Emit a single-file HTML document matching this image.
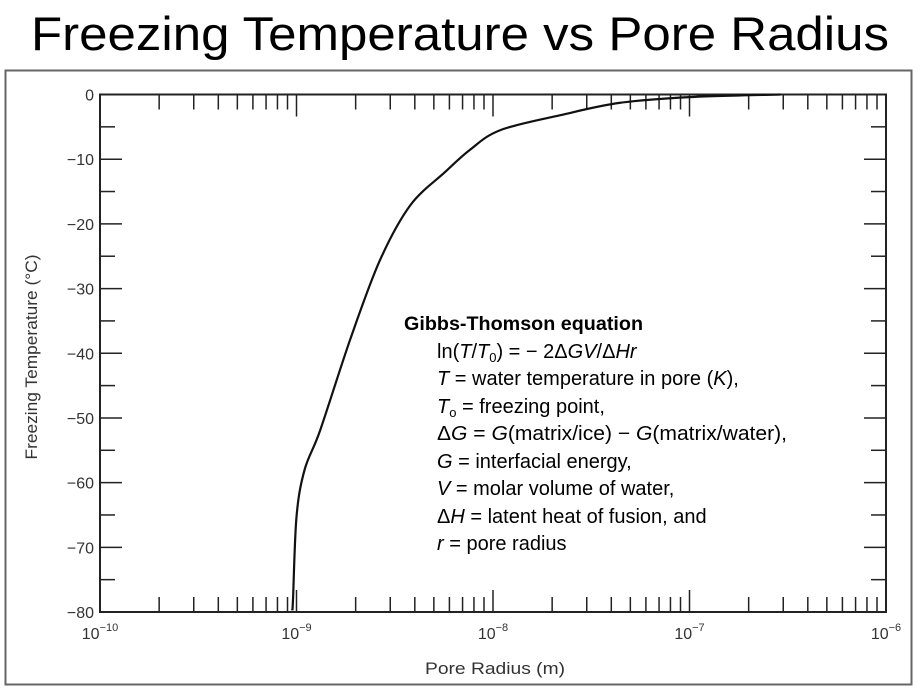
<!DOCTYPE html>
<html><head><meta charset="utf-8"><style>
html,body{margin:0;padding:0;background:#fff;}
body{width:917px;height:690px;overflow:hidden;font-family:"Liberation Sans",sans-serif;}
</style></head><body>
<svg width="917" height="690" viewBox="0 0 917 690" xmlns="http://www.w3.org/2000/svg">
<text x="31" y="50" textLength="858" lengthAdjust="spacingAndGlyphs" font-size="47" fill="#000">Freezing Temperature vs Pore Radius</text>
<rect x="5.5" y="70.5" width="906" height="614" fill="#fff" stroke="#666" stroke-width="2"/>
<g id="axes"></g>
<path id="curve" fill="none" stroke="#111" stroke-width="2.2"/>
<text x="0" y="0" transform="translate(37,357) rotate(-90)" text-anchor="middle" font-size="17" fill="#333" textLength="205" lengthAdjust="spacingAndGlyphs">Freezing Temperature (°C)</text>
<text x="495" y="674" text-anchor="middle" font-size="17" fill="#333" textLength="140" lengthAdjust="spacingAndGlyphs">Pore Radius (m)</text>
<g font-family="Liberation Sans, sans-serif" font-size="20" fill="#000">
<text x="404" y="330" font-weight="bold" font-size="19.5" textLength="239" lengthAdjust="spacingAndGlyphs">Gibbs-Thomson equation</text>
<text x="437" y="358">ln(<tspan font-style="italic">T</tspan>/<tspan font-style="italic">T</tspan><tspan font-size="13" dy="4">0</tspan><tspan dy="-4">) = − 2Δ</tspan><tspan font-style="italic">GV</tspan>/Δ<tspan font-style="italic">Hr</tspan></text>
<text x="437" y="385"><tspan font-style="italic">T</tspan> = water temperature in pore (<tspan font-style="italic">K</tspan>),</text>
<text x="437" y="413"><tspan font-style="italic">T</tspan><tspan font-size="13" dy="4">o</tspan><tspan dy="-4"> = freezing point,</tspan></text>
<text x="437" y="440" textLength="350" lengthAdjust="spacingAndGlyphs">Δ<tspan font-style="italic">G</tspan> = <tspan font-style="italic">G</tspan>(matrix/ice) − <tspan font-style="italic">G</tspan>(matrix/water),</text>
<text x="437" y="468"><tspan font-style="italic">G</tspan> = interfacial energy,</text>
<text x="437" y="495"><tspan font-style="italic">V</tspan> = molar volume of water,</text>
<text x="437" y="523">Δ<tspan font-style="italic">H</tspan> = latent heat of fusion, and</text>
<text x="437" y="550"><tspan font-style="italic">r</tspan> = pore radius</text>
</g>
</svg>
<script>
const radii = [0.95e-9, 0.96e-9, 1.0e-9, 1.1e-9, 1.32e-9, 1.87e-9, 2.66e-9, 3.8e-9, 5.7e-9, 7.6e-9, 1.09e-8, 2.2e-8, 4.4e-8, 1.0e-7, 2.9e-7];
const temps = [-79.7, -78.1, -65.3, -58, -51.9, -38, -25.6, -17.1, -12, -8.6, -5.5, -3.2, -1.3, -0.4, 0];
const yTicks = [0, -10, -20, -30, -40, -50, -60, -70, -80];
const xDecades = [-10, -9, -8, -7, -6];

const L = 100, R = 886, T = 94.5, B = 612;
function xs(r) { return L + (Math.log10(r) + 10) / 4 * (R - L); }
function ys(t) { return T + (0 - t) / 80 * (B - T); }
const NS = 'http://www.w3.org/2000/svg';
const ax = document.getElementById('axes');
function line(x1, y1, x2, y2, w, name) {
  const l = document.createElementNS(NS, 'line');
  l.setAttribute('x1', x1); l.setAttribute('y1', y1); l.setAttribute('x2', x2); l.setAttribute('y2', y2);
  l.setAttribute('stroke', '#222'); l.setAttribute('stroke-width', w);
  
  
  ax.appendChild(l);
}
function txt(x, y, s, anchor, size, name) {
  const t = document.createElementNS(NS, 'text');
  t.setAttribute('x', x); t.setAttribute('y', y); t.setAttribute('text-anchor', anchor);
  t.setAttribute('font-size', size); t.setAttribute('fill', '#333');
  
  
  t.innerHTML = s;
  ax.appendChild(t);
  return t;
}
const f = document.createElementNS(NS, 'rect');
f.setAttribute('x', L); f.setAttribute('y', T); f.setAttribute('width', R - L); f.setAttribute('height', B - T);
f.setAttribute('fill', 'none'); f.setAttribute('stroke', '#222'); f.setAttribute('stroke-width', 2);


ax.appendChild(f);
yTicks.forEach(v => {
  const y = ys(v);
  line(L, y, L + 22, y, 1.5, 'y-major-tick');
  line(R, y, R - 22, y, 1.5, 'y-major-tick-right');
  txt(L - 6, y + 6, v === 0 ? '0' : '−' + Math.abs(v), 'end', 16, 'y-tick-label');
  if (v > -80) {
    const ym = ys(v - 5);
    line(L, ym, L + 15, ym, 1.5, 'y-minor-tick');
    line(R, ym, R - 15, ym, 1.5, 'y-minor-tick-right');
  }
});
xDecades.forEach((d, i) => {
  const x = xs(Math.pow(10, d));
  if (i > 0 && i < xDecades.length - 1) {
    line(x, B, x, B - 22, 1.5, 'x-major-tick');
    line(x, T, x, T + 22, 1.5, 'x-major-tick-top');
  }
  txt(x, B + 27, '10<tspan font-size="11" dy="-8">−' + Math.abs(d) + '</tspan>', 'middle', 16, 'x-tick-label');
  if (i < xDecades.length - 1) {
    for (let m = 2; m <= 9; m++) {
      const xm = xs(m * Math.pow(10, d));
      line(xm, B, xm, B - 15, 1.5, 'x-minor-tick');
      line(xm, T, xm, T + 15, 1.5, 'x-minor-tick-top');
    }
  }
});
const pts = radii.map((r, i) => [xs(r), ys(temps[i])]);
let d = 'M' + pts[0][0].toFixed(1) + ',' + pts[0][1].toFixed(1);
for (let i = 0; i < pts.length - 1; i++) {
  const p0 = pts[Math.max(0, i - 1)], p1 = pts[i], p2 = pts[i + 1], p3 = pts[Math.min(pts.length - 1, i + 2)];
  const c1 = [p1[0] + (p2[0] - p0[0]) / 6, p1[1] + (p2[1] - p0[1]) / 6];
  const c2 = [p2[0] - (p3[0] - p1[0]) / 6, p2[1] - (p3[1] - p1[1]) / 6];
  d += 'C' + c1.map(v => v.toFixed(1)).join(',') + ' ' + c2.map(v => v.toFixed(1)).join(',') + ' ' + p2.map(v => v.toFixed(1)).join(',');
}
document.getElementById('curve').setAttribute('d', d);
</script>
</body></html>
